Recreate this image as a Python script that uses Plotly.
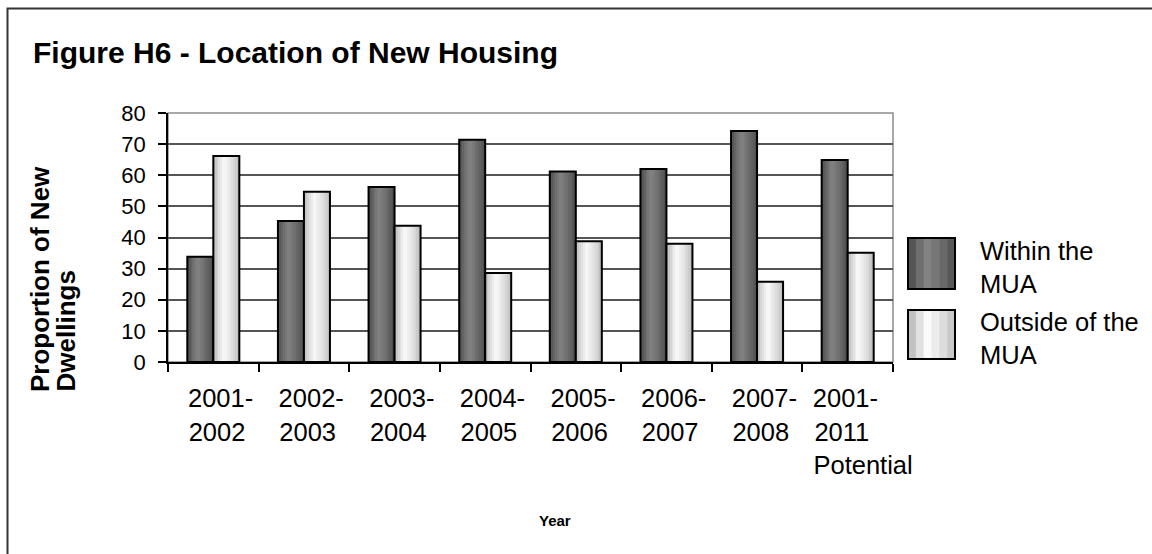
import plotly.graph_objects as go

# Data: share of new dwellings (%) inside / outside the MUA
periods = ["2001-2002", "2002-2003", "2003-2004", "2004-2005",
           "2005-2006", "2006-2007", "2007-2008", "2001-2011 Potential"]
# wrapped tick labels, one list per text line (lines are left-aligned)
label_line1 = ["2001-", "2002-", "2003-", "2004-", "2005-", "2006-", "2007-", "2001-"]
label_line2 = ["2002", "2003", "2004", "2005", "2006", "2007", "2008", "2011"]
label_line3 = ["", "", "", "", "", "", "", "Potential"]
within_mua = [33.8, 45.3, 56.2, 71.4, 61.2, 62.0, 74.2, 64.9]
outside_mua = [66.2, 54.7, 43.8, 28.6, 38.8, 38.0, 25.8, 35.1]
legend_names = ["Within the<br>MUA", "Outside of the<br>MUA"]
y_ticks = [0, 10, 20, 30, 40, 50, 60, 70, 80]

W, H = 1152, 554
L, R, T, B = 168, 893, 113, 362          # plot area in pixels
BAR_W = 0.287                            # bar width in category units
N_STRIPES = 14
FONT = "Liberation Sans, Arial, sans-serif"
NBSP = "\u00a0"


def shade(t, dark):
    """Grey level across a bar (t: 0 = left edge, 1 = right edge)."""
    peak = 0.42
    if t <= peak:
        f = t / peak
        lo = 0x40 if dark else 0xa8
    else:
        f = 1 - (t - peak) / (1 - peak)
        lo = 0x48 if dark else 0xb8
    hi = 0x82 if dark else 0xfa
    v = int(round(lo + (hi - lo) * (f ** 0.7)))
    return f"rgb({v},{v},{v})"


# Arial-style advance widths (em) for padding wrapped labels to equal width
ADV = {"0": .556, "1": .556, "2": .556, "3": .556, "4": .556, "5": .556, "6": .556,
       "7": .556, "8": .556, "9": .556, "-": .333, "P": .667, "o": .556, "t": .278,
       "e": .556, "n": .556, "i": .222, "a": .556, "l": .222}


def text_w(s):
    return sum(ADV.get(c, .556) for c in s)


def wrap_label(lines):
    """Join label lines, padding with no-break spaces so they left-align."""
    lines = [s for s in lines if s]
    widest = max(text_w(s) for s in lines)
    out = []
    for s in lines:
        n = int(round((widest - text_w(s)) / 0.278))
        out.append(s + NBSP * n)
    return "<br>".join(out)


tick_text = [wrap_label(t) for t in zip(label_line1, label_line2, label_line3)]

x_pos = list(range(len(periods)))
# label anchors sit slightly right of the category centres; the wide
# three-line label is nudged further right
label_pos = [i + 0.08 for i in x_pos[:-1]] + [x_pos[-1] + 0.17]

fig = go.Figure()

for values, base_off, dark in [(within_mua, -BAR_W, True), (outside_mua, 0.0, False)]:
    sw = BAR_W / N_STRIPES
    for i in range(N_STRIPES):
        fig.add_trace(go.Bar(
            x=x_pos, y=values, offset=base_off + i * sw, width=sw * 1.05,
            marker=dict(color=shade((i + 0.5) / N_STRIPES, dark), line=dict(width=0)),
            showlegend=False, hoverinfo="skip"))
    # outline on top of the shading
    fig.add_trace(go.Bar(
        x=x_pos, y=values, offset=base_off, width=BAR_W,
        marker=dict(color="rgba(0,0,0,0)", line=dict(color="black", width=2)),
        showlegend=False, hoverinfo="y"))


def px(xp):
    return (xp - L) / (R - L)


def py(yp):
    return (B - yp) / (B - T)


shapes = []
# outer chart border (only top and left fall inside the page)
shapes.append(dict(type="rect", xref="paper", yref="paper",
                   x0=px(7.5), x1=px(1200), y0=py(600), y1=py(8.5),
                   line=dict(color="#333333", width=2), layer="below"))
# plot-area frame (top/right visible; left/bottom covered by axes)
shapes.append(dict(type="rect", xref="paper", yref="paper", x0=0, x1=1, y0=0, y1=1,
                   line=dict(color="#8c8c8c", width=1.5), layer="below"))

# legend swatches drawn as striped boxes
legend_boxes = [(238, 289, True), (310, 359, False)]
sx0, sx1 = 908, 955
n_leg = 6
for (ytop, ybot, dark) in legend_boxes:
    sw = (sx1 - sx0) / n_leg
    for i in range(n_leg):
        shapes.append(dict(type="rect", xref="paper", yref="paper",
                           x0=px(sx0 + i * sw), x1=px(sx0 + (i + 1) * sw + 0.5),
                           y0=py(ybot), y1=py(ytop),
                           fillcolor=shade((i + 0.5) / n_leg, dark), line=dict(width=0)))
    shapes.append(dict(type="rect", xref="paper", yref="paper",
                       x0=px(sx0), x1=px(sx1), y0=py(ybot), y1=py(ytop),
                       line=dict(color="black", width=2)))

annotations = []
for name, (ytop, ybot, _) in zip(legend_names, legend_boxes):
    annotations.append(dict(text=name, xref="paper", yref="paper",
                            x=px(978), y=py((ytop + ybot) / 2 + 4),
                            xanchor="left", yanchor="middle", align="left",
                            showarrow=False, font=dict(size=25.5, color="black")))
annotations.append(dict(text="<b>Figure H6 - Location of New Housing</b>",
                        xref="paper", yref="paper", x=px(31), y=py(53),
                        xanchor="left", yanchor="middle", showarrow=False,
                        font=dict(size=30, color="black")))
for txt, xx in [("<b>Proportion of New</b>", 40), ("<b>Dwellings</b>", 65)]:
    annotations.append(dict(text=txt, xref="paper", yref="paper",
                            x=px(xx), y=py(394), xanchor="center", yanchor="bottom",
                            textangle=-90, showarrow=False,
                            font=dict(size=26, color="black")))
annotations.append(dict(text="<b>Year</b>", xref="paper", yref="paper",
                        x=px(555), y=py(520), xanchor="center", yanchor="middle",
                        showarrow=False, font=dict(size=15, color="black")))

fig.update_layout(
    width=W, height=H,
    margin=dict(l=L, r=W - R, t=T, b=H - B),
    barmode="overlay",
    paper_bgcolor="white", plot_bgcolor="white",
    font=dict(family=FONT, size=20, color="black"),
    showlegend=False,
    shapes=shapes,
    annotations=annotations,
    xaxis=dict(
        range=[-0.5, len(periods) - 0.5],
        tickmode="array", tickvals=label_pos, ticktext=tick_text, ticks="",
        tickangle=0, tickfont=dict(size=25.5, color="black", family=FONT),
        showgrid=False, zeroline=False,
        showline=True, linecolor="black", linewidth=1.5,
        ticklabelstandoff=13,
        minor=dict(tickmode="array",
                   tickvals=[i - 0.5 for i in range(len(periods) + 1)],
                   ticks="outside", ticklen=8, tickcolor="black", tickwidth=1.5,
                   showgrid=False),
        fixedrange=True,
    ),
    yaxis=dict(
        range=[0, 80], tickmode="array", tickvals=y_ticks,
        ticks="outside", ticklen=8, tickcolor="black", tickwidth=1.5,
        showgrid=True, gridcolor="#555555", gridwidth=1.5,
        zeroline=False, showline=True, linecolor="black", linewidth=1.5,
        tickfont=dict(size=22, color="black", family=FONT),
        ticklabelstandoff=8, fixedrange=True,
    ),
)

fig.write_html("out.html")
